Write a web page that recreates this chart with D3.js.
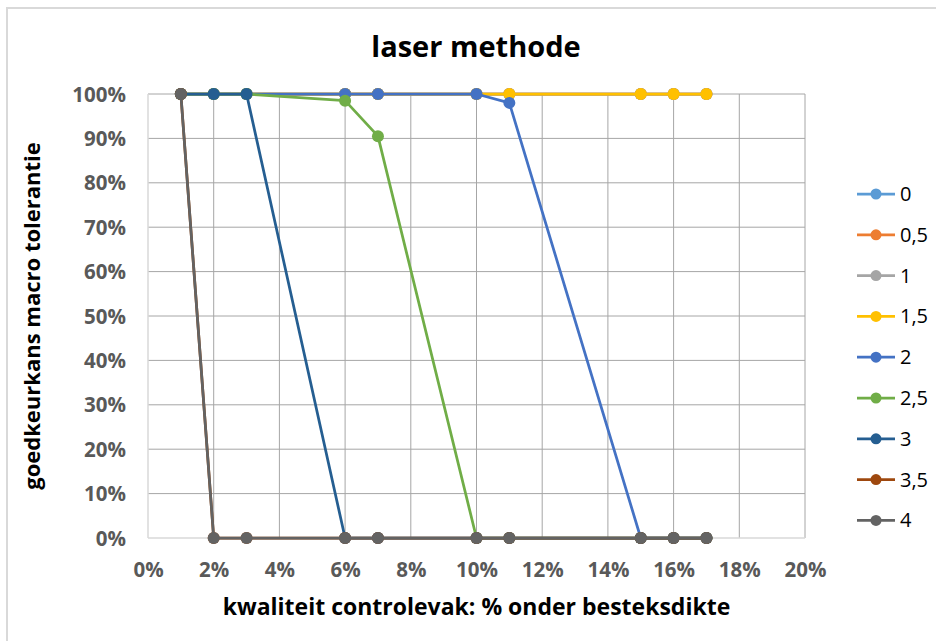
<!DOCTYPE html>
<html>
<head>
<meta charset="utf-8">
<script src="https://cdn.jsdelivr.net/npm/d3@7"></script>
<style>
  html, body { margin: 0; padding: 0; background: #fff; }
  svg { display: block; font-family: "Open Sans", "Liberation Sans", sans-serif; }
</style>
</head>
<body>
<svg id="chart" width="936" height="641"></svg>
<script>
// Percentage of the control section below specified thickness (x, in %)
const xValues = [1, 2, 3, 6, 7, 10, 11, 15, 16, 17];

// Series names (tolerance in mm) and their acceptance probability at each x
const seriesNames = ["0", "0,5", "1", "1,5", "2", "2,5", "3", "3,5", "4"];
const s0   = [1, 1, 1, 1, 1, 1, 1, 1, 1, 1];
const s05  = [1, 1, 1, 1, 1, 1, 1, 1, 1, 1];
const s1   = [1, 1, 1, 1, 1, 1, 1, 1, 1, 1];
const s15  = [1, 1, 1, 1, 1, 1, 1, 1, 1, 1];
const s2   = [1, 1, 1, 1, 1, 1, 0.98, 0, 0, 0];
const s25  = [1, 1, 1, 0.985, 0.905, 0, 0, 0, 0, 0];
const s3   = [1, 1, 1, 0, 0, 0, 0, 0, 0, 0];
const s35  = [1, 0, 0, 0, 0, 0, 0, 0, 0, 0];
const s4   = [1, 0, 0, 0, 0, 0, 0, 0, 0, 0];
const seriesValues = [s0, s05, s1, s15, s2, s25, s3, s35, s4];
const seriesColors = ["#5B9BD5", "#ED7D31", "#A5A5A5", "#FFC000", "#4472C4",
                      "#70AD47", "#255E91", "#9E480E", "#636363"];

const xTicks = [0, 2, 4, 6, 8, 10, 12, 14, 16, 18, 20];
const yTicks = [0, 0.1, 0.2, 0.3, 0.4, 0.5, 0.6, 0.7, 0.8, 0.9, 1];

const titleText = "laser methode";
const xTitle = "kwaliteit controlevak: % onder besteksdikte";
const yTitle = "goedkeurkans macro tolerantie";

const svg = d3.select("#chart");
const W = 936, H = 641;
const plot = { left: 148, top: 94, right: 805, bottom: 538 };

// Chart frame
svg.append("path")
  .attr("d", `M7,${H} L7,8 L${W},8`)
  .attr("fill", "none")
  .attr("stroke", "#d9d9d9")
  .attr("stroke-width", 2);

const x = d3.scaleLinear().domain([0, 20]).range([plot.left, plot.right]);
const y = d3.scaleLinear().domain([0, 1]).range([plot.bottom, plot.top]);

// Gridlines
const grid = svg.append("g");
grid.selectAll("line.h").data(yTicks.filter(d => d > 0)).join("line")
  .attr("x1", plot.left).attr("x2", plot.right)
  .attr("y1", d => y(d)).attr("y2", d => y(d))
  .attr("stroke", "#a6a6a6").attr("stroke-width", 1);
grid.selectAll("line.v").data(xTicks.filter(d => d > 0)).join("line")
  .attr("y1", plot.top).attr("y2", plot.bottom)
  .attr("x1", d => x(d)).attr("x2", d => x(d))
  .attr("stroke", "#a6a6a6").attr("stroke-width", 1);

// Axis lines (lighter)
svg.append("line")
  .attr("x1", plot.left).attr("x2", plot.left)
  .attr("y1", plot.top).attr("y2", plot.bottom)
  .attr("stroke", "#d9d9d9").attr("stroke-width", 1.5);
svg.append("line")
  .attr("x1", plot.left).attr("x2", plot.right)
  .attr("y1", plot.bottom).attr("y2", plot.bottom)
  .attr("stroke", "#d9d9d9").attr("stroke-width", 1.5);

// Axes (labels only)
const xAxis = d3.axisBottom(x).tickValues(xTicks).tickSize(0).tickPadding(0)
  .tickFormat(d => d + "%");
const yAxis = d3.axisLeft(y).tickValues(yTicks).tickSize(0).tickPadding(0)
  .tickFormat(d3.format(".0%"));

const gx = svg.append("g").attr("transform", `translate(0,${plot.bottom + 32})`).call(xAxis);
const gy = svg.append("g").attr("transform", `translate(${plot.left - 22},0)`).call(yAxis);
[gx, gy].forEach(g => {
  g.select(".domain").remove();
  g.selectAll("text")
    .attr("fill", "#595959")
    .style("font-size", "20.5px")
    .style("font-weight", "bold")
    .style("font-family", "\"Open Sans\", \"Liberation Sans\", sans-serif");
});
gx.selectAll("text").attr("dy", "0.35em");
gy.selectAll("text").attr("dy", "0.35em");

// Series lines and markers
const line = d3.line().x(d => x(d[0])).y(d => y(d[1]));
seriesValues.forEach((vals, i) => {
  const pts = xValues.map((xv, j) => [xv, vals[j]]);
  const g = svg.append("g");
  g.append("path")
    .attr("d", line(pts))
    .attr("fill", "none")
    .attr("stroke", seriesColors[i])
    .attr("stroke-width", 2.75)
    .attr("stroke-linejoin", "round");
  g.selectAll("circle").data(pts).join("circle")
    .attr("cx", d => x(d[0])).attr("cy", d => y(d[1]))
    .attr("r", 6)
    .attr("fill", seriesColors[i]);
});

// Title
svg.append("text")
  .attr("x", 476).attr("y", 57)
  .attr("text-anchor", "middle")
  .style("font-size", "29px").style("font-weight", "bold")
  .attr("fill", "#000")
  .text(titleText);

// Axis titles
svg.append("text")
  .attr("x", (plot.left + plot.right) / 2).attr("y", 615)
  .attr("text-anchor", "middle")
  .style("font-size", "23px").style("font-weight", "bold")
  .attr("fill", "#000")
  .text(xTitle);

svg.append("text")
  .attr("transform", `translate(40,${(plot.top + plot.bottom) / 2}) rotate(-90)`)
  .attr("text-anchor", "middle")
  .style("font-size", "22px").style("font-weight", "bold")
  .attr("fill", "#000")
  .text(yTitle);

// Legend
const legend = svg.append("g");
const legendTop = 194, legendStep = 40.8;
seriesNames.forEach((name, i) => {
  const ly = legendTop + i * legendStep;
  legend.append("line")
    .attr("x1", 857).attr("x2", 895).attr("y1", ly).attr("y2", ly)
    .attr("stroke", seriesColors[i]).attr("stroke-width", 2.75);
  legend.append("circle")
    .attr("cx", 876).attr("cy", ly).attr("r", 5.5)
    .attr("fill", seriesColors[i]);
  legend.append("text")
    .attr("x", 900).attr("y", ly).attr("dy", "0.35em")
    .style("font-size", "20px")
    .attr("fill", "#000")
    .text(name);
});
</script>
</body>
</html>
